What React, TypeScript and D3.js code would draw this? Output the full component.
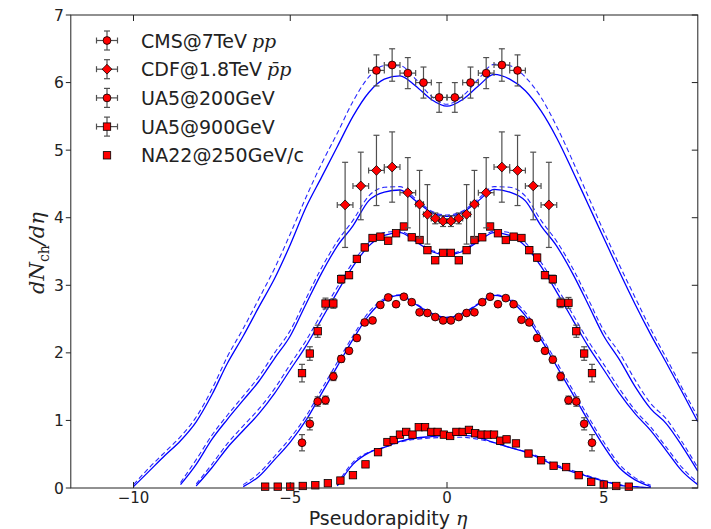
import React from "react";
import * as d3 from "d3";

// ---------- data ----------
const cmsEta = [-2.25, -1.75, -1.25, -0.75, -0.25, 0.25, 0.75, 1.25, 1.75, 2.25];
const cmsVal = [6.18, 6.26, 6.14, 6.0, 5.78, 5.78, 6.0, 6.14, 6.26, 6.18];
const cmsErr = [0.23, 0.24, 0.23, 0.23, 0.22, 0.22, 0.23, 0.23, 0.24, 0.23];
const cmsXErr = [0.25, 0.25, 0.25, 0.25, 0.25, 0.25, 0.25, 0.25, 0.25, 0.25];

const cdfEta = [-3.25, -2.75, -2.25, -1.75, -1.25, -0.875, -0.625, -0.375, -0.125, 0.125, 0.375, 0.625, 0.875, 1.25, 1.75, 2.25, 2.75, 3.25];
const cdfVal = [4.19, 4.47, 4.7, 4.75, 4.37, 4.2, 4.05, 3.99, 3.95, 3.95, 3.99, 4.05, 4.2, 4.37, 4.75, 4.7, 4.47, 4.19];
const cdfErr = [0.63, 0.5, 0.52, 0.52, 0.52, 0.5, 0.44, 0.08, 0.08, 0.08, 0.08, 0.44, 0.5, 0.52, 0.52, 0.52, 0.5, 0.63];
const cdfXErr = [0.25, 0.25, 0.25, 0.25, 0.25, 0.125, 0.125, 0.125, 0.125, 0.125, 0.125, 0.125, 0.125, 0.25, 0.25, 0.25, 0.25, 0.25];

const ua5Eta = [-4.625, -4.375, -4.125, -3.875, -3.625, -3.375, -3.125, -2.875, -2.625, -2.375, -2.125, -1.875, -1.625, -1.375, -1.125, -0.875, -0.625, -0.375, -0.125,
  0.125, 0.375, 0.625, 0.875, 1.125, 1.375, 1.625, 1.875, 2.125, 2.375, 2.625, 2.875, 3.125, 3.375, 3.625, 3.875, 4.125, 4.375, 4.625];
const ua5_200Val = [0.67, 0.95, 1.28, 1.3, 1.65, 1.91, 2.03, 2.22, 2.45, 2.48, 2.71, 2.82, 2.72, 2.83, 2.75, 2.6, 2.59, 2.53, 2.48,
  2.48, 2.53, 2.59, 2.6, 2.75, 2.83, 2.72, 2.81, 2.72, 2.49, 2.45, 2.22, 2.03, 1.9, 1.65, 1.3, 1.28, 0.95, 0.67];
const ua5_200Err = [0.12, 0.09, 0.07, 0.06, 0.06, 0.05, 0.04, 0.04, 0.04, 0.03, 0.03, 0.03, 0.03, 0.03, 0.03, 0.03, 0.03, 0.03, 0.03,
  0.03, 0.03, 0.03, 0.03, 0.03, 0.03, 0.03, 0.03, 0.03, 0.03, 0.04, 0.04, 0.04, 0.05, 0.06, 0.06, 0.07, 0.09, 0.12];
const ua5_900Val = [1.7, 1.99, 2.32, 2.73, 2.73, 3.09, 3.15, 3.39, 3.56, 3.7, 3.72, 3.66, 3.77, 3.87, 3.71, 3.67, 3.52, 3.37, 3.48,
  3.48, 3.37, 3.52, 3.67, 3.71, 3.87, 3.77, 3.67, 3.72, 3.7, 3.52, 3.41, 3.15, 3.09, 2.74, 2.74, 2.32, 1.99, 1.7];
const ua5_900Err = [0.13, 0.1, 0.09, 0.08, 0.07, 0.06, 0.05, 0.05, 0.05, 0.04, 0.04, 0.04, 0.04, 0.04, 0.04, 0.04, 0.04, 0.04, 0.04,
  0.04, 0.04, 0.04, 0.04, 0.04, 0.04, 0.04, 0.04, 0.04, 0.04, 0.05, 0.05, 0.05, 0.06, 0.07, 0.08, 0.09, 0.1, 0.13];

const na22Eta = [-5.8, -5.4, -5.0, -4.6, -4.2, -3.8, -3.4, -3.0, -2.6, -2.2, -1.9, -1.7, -1.5, -1.3, -1.1, -0.9, -0.7, -0.5, -0.3, -0.1,
  0.1, 0.3, 0.5, 0.7, 0.9, 1.1, 1.3, 1.5, 1.7, 1.9, 2.2, 2.6, 3.0, 3.4, 3.8, 4.2, 4.6, 5.0, 5.4, 5.8];
const na22Val = [0.02, 0.02, 0.02, 0.03, 0.04, 0.07, 0.11, 0.19, 0.35, 0.53, 0.68, 0.71, 0.79, 0.83, 0.79, 0.9, 0.9, 0.83, 0.83, 0.79,
  0.77, 0.83, 0.83, 0.86, 0.81, 0.79, 0.79, 0.79, 0.7, 0.72, 0.66, 0.51, 0.41, 0.33, 0.31, 0.19, 0.09, 0.05, 0.03, 0.02];

// model curves on a common grid
const gridEta = [-10, -9.5, -9, -8.5, -8, -7.5, -7, -6.5, -6, -5.5, -5, -4.5, -4, -3.5, -3, -2.5, -2, -1.5, -1, -0.5, 0,
  0.5, 1, 1.5, 2, 2.5, 3, 3.5, 4, 4.5, 5, 5.5, 6, 6.5, 7, 7.5, 8];
const N = null;
const model7000 = [0.02, 0.25, 0.48, 0.7, 0.98, 1.38, 1.85, 2.25, 2.68, 3.1, 3.6, 4.15, 4.6, 5.05, 5.5, 5.85, 6.05, 6.1, 5.95, 5.75, 5.65,
  5.75, 5.95, 6.12, 6.05, 5.88, 5.58, 5.18, 4.7, 4.2, 3.7, 3.2, 2.72, 2.27, 1.85, 1.42, 0.98];
const model7000b = [0.05, 0.3, 0.53, 0.76, 1.05, 1.46, 1.95, 2.36, 2.8, 3.25, 3.76, 4.3, 4.8, 5.25, 5.72, 6.08, 6.25, 6.25, 6.05, 5.8, 5.68,
  5.8, 6.05, 6.27, 6.25, 6.08, 5.78, 5.35, 4.85, 4.32, 3.8, 3.3, 2.82, 2.35, 1.92, 1.48, 1.05];
const model1800 = [N, N, N, 0.05, 0.35, 0.72, 1.02, 1.3, 1.58, 1.92, 2.25, 2.72, 3.18, 3.58, 3.88, 4.25, 4.38, 4.41, 4.25, 4.08, 4.02,
  4.08, 4.25, 4.42, 4.38, 4.25, 3.88, 3.58, 3.18, 2.72, 2.25, 1.9, 1.5, 1.17, 0.95, 0.62, 0.25];
const model1800b = [N, N, N, 0.08, 0.42, 0.78, 1.08, 1.36, 1.65, 2.0, 2.33, 2.8, 3.26, 3.65, 3.96, 4.32, 4.45, 4.46, 4.28, 4.1, 4.04,
  4.1, 4.28, 4.46, 4.45, 4.32, 3.96, 3.65, 3.26, 2.8, 2.33, 2.0, 1.6, 1.25, 1.02, 0.68, 0.3];
const model900 = [N, N, N, N, 0.03, 0.3, 0.6, 0.85, 1.1, 1.4, 1.75, 2.1, 2.5, 2.9, 3.28, 3.58, 3.74, 3.78, 3.65, 3.5, 3.45,
  3.5, 3.65, 3.78, 3.74, 3.58, 3.28, 2.9, 2.5, 2.1, 1.75, 1.4, 1.1, 0.85, 0.55, 0.25, 0.05];
const model900b = [N, N, N, N, 0.06, 0.35, 0.66, 0.92, 1.17, 1.47, 1.83, 2.18, 2.58, 2.97, 3.34, 3.63, 3.78, 3.8, 3.67, 3.52, 3.47,
  3.52, 3.67, 3.8, 3.78, 3.63, 3.34, 2.97, 2.58, 2.18, 1.83, 1.47, 1.15, 0.9, 0.6, 0.3, 0.08];
const model200 = [N, N, N, N, N, N, N, 0.02, 0.17, 0.42, 0.68, 1.0, 1.4, 1.8, 2.2, 2.55, 2.78, 2.85, 2.72, 2.58, 2.52,
  2.58, 2.72, 2.85, 2.78, 2.55, 2.2, 1.8, 1.4, 1.0, 0.62, 0.3, 0.12, 0.02, N, N, N];
const model200b = [N, N, N, N, N, N, N, 0.05, 0.22, 0.47, 0.74, 1.06, 1.46, 1.86, 2.25, 2.6, 2.8, 2.86, 2.73, 2.59, 2.53,
  2.59, 2.73, 2.86, 2.8, 2.6, 2.25, 1.86, 1.46, 1.06, 0.68, 0.35, 0.15, 0.04, N, N, N];
const model250 = [N, N, N, N, N, N, N, N, N, N, N, N, N, 0.03, 0.35, 0.52, 0.6, 0.69, 0.74, 0.76, 0.78,
  0.78, 0.75, 0.67, 0.6, 0.53, 0.43, 0.32, 0.24, 0.17, 0.1, 0.04, 0.02, 0.0, N, N, N];
const model250b = [N, N, N, N, N, N, N, N, N, N, N, N, N, 0.06, 0.38, 0.53, 0.6, 0.68, 0.72, 0.74, 0.75,
  0.75, 0.72, 0.67, 0.6, 0.54, 0.45, 0.34, 0.26, 0.18, 0.11, 0.05, 0.02, 0.0, N, N, N];

const xTicks = [-10, -5, 0, 5];
const yTicks = [0, 1, 2, 3, 4, 5, 6, 7];
const legendLabels = ["CMS@7TeV", "CDF@1.8TeV", "UA5@200GeV", "UA5@900GeV", "NA22@250GeV/c"];

// ---------- layout ----------
const W = 711, H = 529;
const L = 70.8, R = 697.8, T = 15, B = 488;
const x = d3.scaleLinear().domain([-12, 8]).range([L, R]);
const y = d3.scaleLinear().domain([0, 7]).range([B, T]);

const RED = "#ff0000";
const BLUE = "#0000ff";
const ERR = "#505050";

type MarkerKind = "circle" | "square" | "diamond";

function Marker({ kind, cx, cy, s = 1 }: { kind: MarkerKind; cx: number; cy: number; s?: number }) {
  if (kind === "circle") return <circle cx={cx} cy={cy} r={3.9 * s} fill={RED} stroke="#000" strokeWidth={0.8} />;
  if (kind === "square") {
    const h = 3.7 * s;
    return <rect x={cx - h} y={cy - h} width={2 * h} height={2 * h} fill={RED} stroke="#000" strokeWidth={0.8} />;
  }
  const h = 4.9 * s;
  return <path d={`M${cx},${cy - h}L${cx + h},${cy}L${cx},${cy + h}L${cx - h},${cy}Z`} fill={RED} stroke="#000" strokeWidth={0.8} />;
}

function ErrBar({ cx, cy, y0, y1, x0, x1, cap = 3 }: { cx: number; cy: number; y0?: number; y1?: number; x0?: number; x1?: number; cap?: number }) {
  return (
    <g stroke={ERR} strokeWidth={1.2} fill="none">
      {y0 !== undefined && y1 !== undefined && (
        <>
          <line x1={cx} x2={cx} y1={y0} y2={y1} />
          <line x1={cx - cap} x2={cx + cap} y1={y0} y2={y0} />
          <line x1={cx - cap} x2={cx + cap} y1={y1} y2={y1} />
        </>
      )}
      {x0 !== undefined && x1 !== undefined && (
        <>
          <line x1={x0} x2={x1} y1={cy} y2={cy} />
          <line x1={x0} x2={x0} y1={cy - cap} y2={cy + cap} />
          <line x1={x1} x2={x1} y1={cy - cap} y2={cy + cap} />
        </>
      )}
    </g>
  );
}

function Series({ eta, val, err, xerr, kind }: { eta: number[]; val: number[]; err?: number[]; xerr?: number[]; kind: MarkerKind }) {
  return (
    <g>
      {eta.map((e, i) => (
        <ErrBar key={"e" + i} cx={x(e)} cy={y(val[i])}
          y0={err ? y(val[i] - err[i]) : undefined} y1={err ? y(val[i] + err[i]) : undefined}
          x0={xerr ? x(e - xerr[i]) : undefined} x1={xerr ? x(e + xerr[i]) : undefined} />
      ))}
      {eta.map((e, i) => (
        <Marker key={"m" + i} kind={kind} cx={x(e)} cy={y(val[i])} />
      ))}
    </g>
  );
}

const lineGen = d3.line<[number, number | null]>()
  .defined((d) => d[1] !== null)
  .x((d) => x(d[0]))
  .y((d) => y(d[1] as number))
  .curve(d3.curveMonotoneX);

function ModelCurve({ vals, dashed }: { vals: (number | null)[]; dashed?: boolean }) {
  const pts = gridEta.map((e, i) => [e, vals[i]] as [number, number | null]);
  return <path d={lineGen(pts) || ""} fill="none" stroke={BLUE} strokeWidth={dashed ? 1.1 : 1.3}
    strokeDasharray={dashed ? "5,3" : undefined} opacity={dashed ? 0.85 : 1} />;
}

export default function App() {
  const legendX = 107;
  const legendY = [40.5, 69.2, 97.9, 126.6, 155.3];
  const legendKinds: MarkerKind[] = ["circle", "diamond", "circle", "square", "square"];
  const sans = "'DejaVu Sans', 'Liberation Sans', sans-serif";
  const serif = "'DejaVu Serif', 'Liberation Serif', serif";
  return (
    <svg width={W} height={H} style={{ position: "absolute", left: 0, top: 0, background: "#fff" }}>
      <defs>
        <clipPath id="plotclip">
          <rect x={L} y={T} width={R - L} height={B - T} />
        </clipPath>
      </defs>
      <rect x={0} y={0} width={W} height={H} fill="#fff" />
      <g clipPath="url(#plotclip)">
        {[model7000, model1800, model900, model200, model250].map((m, i) => (
          <ModelCurve key={"s" + i} vals={m} />
        ))}
        {[model7000b, model1800b, model900b, model200b, model250b].map((m, i) => (
          <ModelCurve key={"d" + i} vals={m} dashed />
        ))}
      </g>
      {/* data */}
      <g>
        {na22Eta.map((e, i) => (
          <Marker key={"na" + i} kind="square" cx={x(e)} cy={y(na22Val[i])} />
        ))}
      </g>
      <Series eta={ua5Eta} val={ua5_200Val} err={ua5_200Err} kind="circle" />
      <Series eta={ua5Eta} val={ua5_900Val} err={ua5_900Err} kind="square" />
      <Series eta={cdfEta} val={cdfVal} err={cdfErr} xerr={cdfXErr} kind="diamond" />
      <Series eta={cmsEta} val={cmsVal} err={cmsErr} xerr={cmsXErr} kind="circle" />

      {/* frame */}
      <rect x={L} y={T} width={R - L} height={B - T} fill="none" stroke="#222" strokeWidth={1} />
      {/* ticks */}
      {xTicks.map((t) => (
        <g key={"xt" + t}>
          <line x1={x(t)} x2={x(t)} y1={B} y2={B - 6} stroke="#222" />
          <line x1={x(t)} x2={x(t)} y1={T} y2={T + 6} stroke="#222" />
          <text x={x(t)} y={B + 15} textAnchor="middle" fontFamily={sans} fontSize={15} fill="#222">
            {t < 0 ? "\u2212" + Math.abs(t) : String(t)}
          </text>
        </g>
      ))}
      {yTicks.map((t) => (
        <g key={"yt" + t}>
          <line x1={L - 5} x2={L} y1={y(t)} y2={y(t)} stroke="#222" />
          <line x1={R - 6} x2={R} y1={y(t)} y2={y(t)} stroke="#222" />
          <text x={L - 7} y={y(t) + 5.5} textAnchor="end" fontFamily={sans} fontSize={15.5} fill="#222">{t}</text>
        </g>
      ))}
      {/* axis labels */}
      <text x={388} y={525} textAnchor="middle" fontFamily={sans} fontSize={19} fill="#222">
        Pseudorapidity <tspan fontFamily={serif} fontStyle="italic">η</tspan>
      </text>
      <text transform={`translate(44,${253}) rotate(-90)`} textAnchor="middle" fontFamily={serif} fontSize={21} fill="#222">
        <tspan fontStyle="italic">dN</tspan>
        <tspan fontSize={14} dy={5}>ch</tspan>
        <tspan dy={-5} fontStyle="italic">/dη</tspan>
      </text>

      {/* legend */}
      {legendLabels.map((lab, i) => {
        const cy = legendY[i];
        const hasErr = i < 4;
        return (
          <g key={"lg" + i}>
            {hasErr && <ErrBar cx={legendX} cy={cy} y0={cy - 9.5} y1={cy + 9.5} x0={legendX - 10.5} x1={legendX + 10.5} />}
            <Marker kind={legendKinds[i]} cx={legendX} cy={cy} />
            <text x={141} y={cy + 7} fontFamily={sans} fontSize={19} fill="#222">
              {lab}
              {i === 0 && <tspan fontFamily={serif} fontStyle="italic" dx={5}>pp</tspan>}
              {i === 1 && <tspan fontFamily={serif} fontStyle="italic" dx={5}>p̄p</tspan>}
            </text>
          </g>
        );
      })}
    </svg>
  );
}
